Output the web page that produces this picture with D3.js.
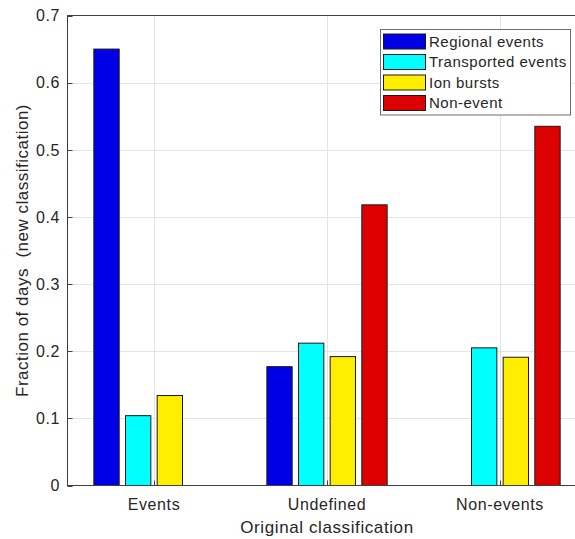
<!DOCTYPE html>
<html><head><meta charset="utf-8">
<script src="https://cdn.jsdelivr.net/npm/d3@7"></script>
<style>
html,body{margin:0;padding:0;background:#fff;overflow:hidden;}
text{font-family:"Liberation Sans",Arial,Helvetica,sans-serif;fill:#262626;white-space:pre;}
</style></head>
<body>
<svg id="chart" width="575" height="539"></svg>
<script>
const categories = ["Events", "Undefined", "Non-events"];
const seriesNames = ["Regional events", "Transported events", "Ion bursts", "Non-event"];
const regional    = [0.650, 0.177, 0.0];
const transported = [0.104, 0.212, 0.205];
const ionBursts   = [0.134, 0.192, 0.191];
const nonEvent    = [0.0,   0.418, 0.535];
const seriesColors = ["#0000e6", "#00ffff", "#ffee00", "#dd0000"];
const yTicks = [0, 0.1, 0.2, 0.3, 0.4, 0.5, 0.6, 0.7];
const xLabel = "Original classification";
const yLabel = "Fraction of days  (new classification)";

const seriesValues = [regional, transported, ionBursts, nonEvent];

const svg = d3.select("#chart");
const pLeft = 67.5, pTop = 15.5, pBottom = 485.5, pRight = 586.5;

const x = d3.scaleLinear().domain([0.5, 3.5]).range([pLeft, pRight]);
const y = d3.scaleLinear().domain([0, 0.7]).range([pBottom, pTop]);
const groupW = (x(2) - x(1)) * 0.732;
const inner = d3.scaleBand().domain(d3.range(seriesNames.length))
  .range([-groupW / 2, groupW / 2]).paddingInner(0.2).paddingOuter(0.1);

// grid
const grid = svg.append("g");
grid.selectAll("line.h").data(yTicks.slice(1, -1)).join("line")
  .attr("x1", pLeft).attr("x2", pRight)
  .attr("y1", d => Math.round(y(d)) + 0.5).attr("y2", d => Math.round(y(d)) + 0.5)
  .attr("stroke", "#e4e4e4").attr("stroke-width", 1);
grid.selectAll("line.v").data(categories).join("line")
  .attr("x1", (d, i) => Math.round(x(i + 1)) + 0.5).attr("x2", (d, i) => Math.round(x(i + 1)) + 0.5)
  .attr("y1", pTop).attr("y2", pBottom)
  .attr("stroke", "#e4e4e4").attr("stroke-width", 1);

// bars
const barData = [];
seriesValues.forEach((vals, s) => vals.forEach((v, c) => { if (v > 0) barData.push({s, c, v}); }));
svg.append("g").selectAll("rect").data(barData).join("rect")
  .attr("x", d => x(d.c + 1) + inner(d.s))
  .attr("width", inner.bandwidth())
  .attr("y", d => y(d.v))
  .attr("height", d => y(0) - y(d.v))
  .attr("fill", d => seriesColors[d.s])
  .attr("stroke", "#1a1a1a").attr("stroke-width", 1);

// axes box
svg.append("rect").attr("x", pLeft).attr("y", pTop)
  .attr("width", pRight - pLeft).attr("height", pBottom - pTop)
  .attr("fill", "none").attr("stroke", "#404040").attr("stroke-width", 1);

// y ticks
const yAx = svg.append("g");
yAx.selectAll("line").data(yTicks).join("line")
  .attr("x1", pLeft).attr("x2", pLeft + 5)
  .attr("y1", d => Math.round(y(d)) + 0.5).attr("y2", d => Math.round(y(d)) + 0.5)
  .attr("stroke", "#404040");
yAx.selectAll("text").data(yTicks).join("text")
  .attr("x", 60).attr("y", d => y(d)).attr("dy", "0.36em")
  .attr("text-anchor", "end").attr("font-size", "16px").attr("letter-spacing", "0.6px")
  .text(d => d === 0 ? "0" : d3.format(".1f")(d));

// x ticks
const xAx = svg.append("g");
xAx.selectAll("line").data(categories).join("line")
  .attr("x1", (d, i) => Math.round(x(i + 1)) + 0.5).attr("x2", (d, i) => Math.round(x(i + 1)) + 0.5)
  .attr("y1", pBottom).attr("y2", pBottom - 5)
  .attr("stroke", "#404040");
xAx.selectAll("text").data(categories).join("text")
  .attr("x", (d, i) => x(i + 1)).attr("y", 510)
  .attr("text-anchor", "middle").attr("font-size", "16px").attr("letter-spacing", "0.6px")
  .text(d => d);

// axis labels
svg.append("text").attr("x", (pLeft + pRight) / 2).attr("y", 533)
  .attr("text-anchor", "middle").attr("font-size", "17px").attr("letter-spacing", "0.6px")
  .text(xLabel);
svg.append("text").attr("transform", `translate(28,${(pTop + pBottom) / 2}) rotate(-90)`)
  .attr("text-anchor", "middle").attr("font-size", "17px").attr("letter-spacing", "0.5px")
  .text(yLabel);

// legend
const lg = svg.append("g");
lg.append("rect").attr("x", 380.5).attr("y", 29.5).attr("width", 190).attr("height", 85.5)
  .attr("fill", "#fff").attr("stroke", "#6e6e6e").attr("stroke-width", 1);
const rows = lg.selectAll("g").data(seriesNames).join("g")
  .attr("transform", (d, i) => `translate(0,${41.5 + i * 20.5})`);
rows.append("rect").attr("x", 383.5).attr("y", -7.5).attr("width", 42).attr("height", 15)
  .attr("fill", (d, i) => seriesColors[i]).attr("stroke", "#1a1a1a").attr("stroke-width", 1);
rows.append("text").attr("x", 429).attr("y", 0).attr("dy", "0.36em")
  .attr("font-size", "15px").attr("letter-spacing", "0.5px").text(d => d);
</script>
</body></html>
